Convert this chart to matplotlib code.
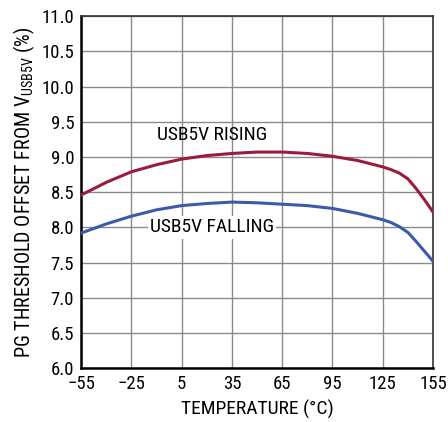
import matplotlib
matplotlib.use('Agg')
import matplotlib.pyplot as plt

plt.rcParams['font.family'] = ['Roboto Condensed', 'DejaVu Sans']

# threshold offset vs temperature
temp = [-55, -40, -25, -10, 5, 20, 35, 50, 65, 80, 95, 110, 125, 130, 135, 140, 145, 150, 155]
rising = [8.46, 8.64, 8.79, 8.89, 8.97, 9.02, 9.05, 9.07, 9.07, 9.05, 9.01, 8.95, 8.86, 8.82, 8.77, 8.69, 8.55, 8.39, 8.22]
falling = [7.92, 8.05, 8.16, 8.25, 8.31, 8.34, 8.36, 8.35, 8.33, 8.31, 8.27, 8.20, 8.11, 8.07, 8.01, 7.93, 7.80, 7.66, 7.52]

xticks = [-55, -25, 5, 35, 65, 95, 125, 155]
xticklabels = ['\u221255', '\u221225', '5', '35', '65', '95', '125', '155']
yticks = [6.0, 6.5, 7.0, 7.5, 8.0, 8.5, 9.0, 9.5, 10.0, 10.5, 11.0]

fig = plt.figure(figsize=(4.48, 4.22), dpi=100)
ax = fig.add_axes([0.181, 0.127, 0.7855, 0.835])

ax.plot(temp, rising, color='#9b1b3c', lw=2.2, zorder=3)
ax.plot(temp, falling, color='#3b5ba9', lw=2.2, zorder=3)

ax.text(23, 9.31, 'USB5V RISING', fontsize=14, ha='center', va='center', zorder=4)
ax.text(23, 8.0, 'USB5V FALLING', fontsize=14, ha='center', va='center', zorder=4,
        bbox=dict(facecolor='white', edgecolor='none', pad=1.5))

ax.set_xlim(-55, 155)
ax.set_ylim(6.0, 11.0)
ax.set_xticks(xticks)
ax.set_xticklabels(xticklabels)
ax.set_yticks(yticks)
ax.set_yticklabels([f'{v:.1f}' for v in yticks])
ax.tick_params(length=0, labelsize=13.5, pad=5)
ax.grid(True, color='#8a8a8a', lw=1.0)
ax.set_axisbelow(True)
for s in ax.spines.values():
    s.set_color('#333333')
    s.set_linewidth(1.2)
ax.spines['left'].set_linewidth(1.8)
ax.spines['bottom'].set_linewidth(1.8)
ax.spines['left'].set_color('black')
ax.spines['bottom'].set_color('black')

ax.set_xlabel('TEMPERATURE (\u00b0C)', fontsize=14, labelpad=5)
ax.set_ylabel(r'PG THRESHOLD OFFSET FROM V$\mathregular{_{USB5V}}$ (%)', fontsize=14.5, labelpad=3)

fig.savefig('out.png', dpi=100)
